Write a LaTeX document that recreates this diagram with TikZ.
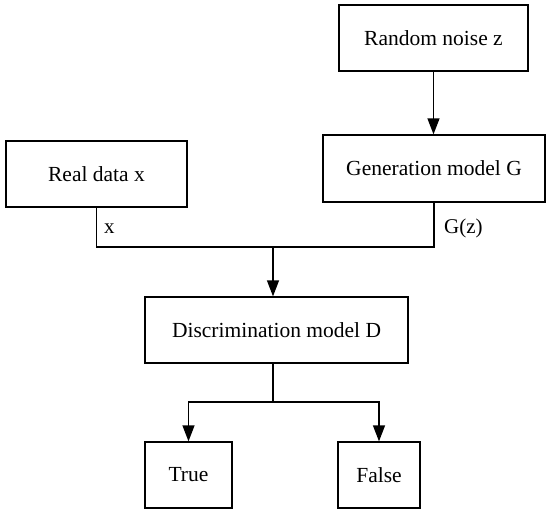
\documentclass[tikz,border=0pt]{standalone}
\usepackage{fontspec}
\setmainfont{Liberation Serif}
\usetikzlibrary{arrows.meta}

\begin{document}
\begin{tikzpicture}[x=1pt,y=-1pt,
	box/.style={draw, line width=1.3pt, inner sep=0pt, minimum height=66pt, font=\fontsize{21.5}{25}\selectfont},
	lbl/.style={anchor=west, inner sep=0pt, font=\fontsize{21}{25}\selectfont},
	wire/.style={line width=1.3pt},
	flow/.style={line width=1.3pt, -{Triangle[length=16pt,width=12pt]}}]

\useasboundingbox (0,0) rectangle (550,514);

% boxes
\node[box, minimum width=189pt] (noise) at (433.5,38) {Random noise z};

\node[box, minimum width=222pt, minimum height=67pt] (gen) at (434,168.5) {Generation model G};

\node[box, minimum width=181pt] (real) at (96.5,174) {Real data x};

\node[box, minimum width=263pt] (disc) at (276.5,330) {Discrimination model D};

\node[box, minimum width=87pt] (truebox) at (188.5,475) {True};

\node[box, minimum width=82pt] (falsebox) at (379,475) {False};

% connectors
\coordinate (join) at (273,247);

\coordinate (split) at (273,402);

\draw[flow] (noise.south) -- (noise.south |- gen.north);

\draw[wire] (real.south) |- (join) -| (gen.south);

\draw[flow] (join) -- (join |- disc.north);

\draw[wire] (split |- disc.south) -- (split);

\draw[flow] (split) -| (truebox.north);

\draw[flow] (split) -| (falsebox.north);

% labels
\node[lbl] (xlab) at (104,229) {x};

\node[lbl] (gzlab) at (444,228) {G(z)};

\end{tikzpicture}
\end{document}
